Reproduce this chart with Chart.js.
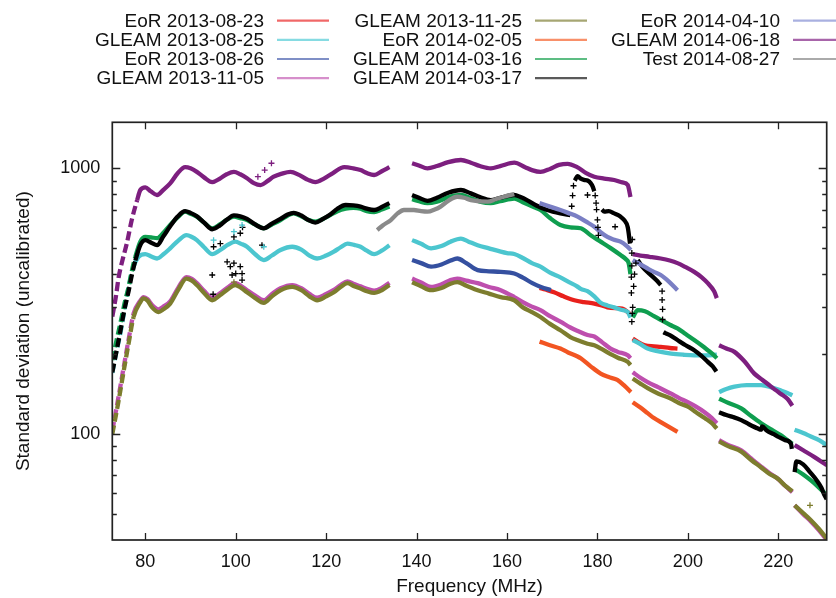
<!DOCTYPE html>
<html>
<head>
<meta charset="utf-8">
<script src="https://cdn.jsdelivr.net/npm/chart.js@4/dist/chart.umd.min.js"></script>
<style>
  html, body { margin: 0; padding: 0; background: #fff; }
  canvas { display: block; }
</style>
</head>
<body>
<canvas id="c" width="836" height="598"></canvas>
<script>
// ---------------- DATA (frequency in MHz, standard deviation uncalibrated; null = gap) ----------------
const seriesNames = ['EoR 2013-08-23', 'GLEAM 2013-08-25', 'EoR 2013-08-26', 'GLEAM 2013-11-05',
  'GLEAM 2013-11-25', 'EoR 2014-02-05', 'GLEAM 2014-03-16', 'GLEAM 2014-03-17',
  'EoR 2014-04-10', 'GLEAM 2014-06-18', 'Test 2014-08-27'];

const xTickValues = [80, 100, 120, 140, 160, 180, 200, 220];
const yTickValues = [50, 60, 70, 80, 90, 100, 200, 300, 400, 500, 600, 700, 800, 900, 1000];
const yLabelValues = [100, 1000];

// EoR 2013-08-23
const freqEoR0823 = [167.2,168.5,170.4,172.5,174.9,177.0,179.3,180.7,182.2,184.0,185.5,186.9,187.4, 187.6,
  187.8,189.0,190.5,192.5,194.0,196.0,197.7];
const sdEoR0823 = [355,350,342,330,319,314,310,306,300,298,297,286,280, null,
  229,222,216,214,213,211,210];

// GLEAM 2013-08-25
const freqGL0825 = [72.7,73.5,74.5,75.9,77.4,78.5,80.0,81.3,82.6,84.0,85.5,87.3,89.1,90.3,91.4,93.0,94.8,96.5,98.2,99.9,
  101.2,102.5,104.3,106.2,108.0,109.9,112.5,114.5,116.3,118.0,120.0,121.7,123.2,124.7,126.2,127.6,129.0,130.6,132.3,134.0, 136.0,
  139.0,141.0,143.2,145.5,147.5,149.8,151.5,153.5,156.0,158.6,160.0,161.6,163.5,165.5,167.4,169.5,171.8,173.5,175.5,176.3,
  177.8,179.3,180.7,182.2,183.7,185.2,186.7,187.3, 187.55,
  187.8,189.5,191.1,193.5,196.3,199.0,201.4,204.0,206.4, 206.75,
  206.9,208.5,210.3,213.0,216.2,218.5,220.6,222.0,223.1, 223.35,
  223.6,225.5,227.2,229.0,230.7];
const sdGL0825 = [170,200,240,328,427,465,476,466,458,475,500,535,561,552,537,505,476,492,515,530,
  520,507,475,452,470,493,507,495,470,458,470,486,505,521,515,507,490,476,490,514, null,
  537,520,500,510,530,544,530,514,500,486,480,476,460,440,427,405,389,375,360,352,
  345,330,312,305,300,294,288,275, null,
  226,218,210,205,201,199,198,198,199, null,
  144,148,151,153,153,150,146,143,140, null,
  104,101,98,95,91];

// EoR 2013-08-26
const freqEoR0826 = [139.0,141.0,143.2,145.5,147.5,149.0,151.0,153.5,156.0,158.6,161.6,163.5,165.6,167.5,169.7];
const sdEoR0826 = [452,440,427,435,450,458,440,414,410,408,402,388,370,358,348];

// GLEAM 2013-11-05 and 2013-11-25 share the same channel frequencies
const freqGL11 = [72.7,74.0,75.3,76.4,77.4,78.9,79.6,80.5,81.5,82.9,84.0,85.5,87.3,89.1,90.3,91.4,93.0,94.8,96.5,98.2,
  99.9,101.2,102.5,104.3,106.2,108.0,109.9,112.5,114.5,116.3,118.0,120.0,121.7,123.2,124.7,126.2,127.6,129.0,130.6,132.3,134.0, 136.0,
  139.0,141.0,143.2,145.5,147.5,149.0,151.0,153.5,156.0,158.6,161.6,163.5,165.5,167.4,169.5,171.8,174.0,175.5,177.8,179.3,
  181.0,182.9,184.5,186.7,187.3, 187.55,
  187.8,189.5,191.1,193.5,196.3,198.0,200.0,201.8,203.7,205.3,206.4, 206.75,
  206.9,209.0,211.8,214.0,216.2,218.0,219.9,221.5,223.1, 223.35,
  223.6,225.5,227.2,229.0,230.7];
const sdGL1105 = [103,136,182,232,284,318,328,322,306,295,302,316,356,390,384,370,346,326,339,356,
  370,361,348,332,319,337,354,364,354,337,326,337,349,364,376,367,360,352,347,355,371, null,
  385,372,358,366,380,385,378,370,358,348,328,314,302,293,278,265,252,245,236,233,
  222,210,204,198,193, null,
  171,163,157,150,142,137,132,127,121,115,110, null,
  95,91,87,81,75.5,71.5,68,64,60.5, null,
  54,50,47,43.5,40];
const sdGL1125 = [100,131,176,224,276,314,324,318,300,288,295,310,350,385,378,364,340,319,333,350,
  364,355,342,325,312,330,348,358,348,330,319,330,342,358,370,360,353,345,340,348,364, null,
  373,360,348,355,368,373,362,348,338,328,319,300,288,276,260,246,232,226,219,216,
  209,200,194,187,182, null,
  162,155,149,142,136,131,127,121,115,110,105, null,
  94,90,86,80,75,71,68,64,61, null,
  54,50.5,47.5,44,40.5];

// EoR 2014-02-05
const freqEoR0205 = [167.2,169.5,171.8,173.5,175.6,176.3,178.5,180.7,182.5,184.4,186.0,187.4, 187.6,
  187.8,189.5,191.1,192.5,194.0,196.0,197.7];
const sdEoR0205 = [223,216,210,203,196,193,180,169,164,160,152,144, null,
  132,126,120,115,111,106,102];

// GLEAM 2014-03-16
const freqGL0316 = [72.7,73.5,74.5,75.4,76.3,77.0,77.8,78.9,80.0,81.3,82.6,84.0,85.5,87.2,88.8,90.0,91.4,93.0,94.8,96.5,
  98.0,99.6,101.0,102.5,104.3,106.2,108.0,109.9,111.5,112.8,114.5,116.0,117.6,119.3,120.9,122.5,124.3,126.0,127.6,129.0,
  130.6,132.3,134.0, 136.0,
  139.0,140.5,142.4,144.5,147.0,149.8,152.0,154.0,156.4,158.5,161.6,163.5,165.5,167.4,169.5,171.8,174.0,176.3,178.5,180.7,
  183.0,185.1,186.3,186.9,187.3, 187.55,
  187.8,188.9,190.5,192.5,194.0,196.0,197.7,199.5,201.4,203.0,204.4,205.5,206.4, 206.75,
  206.9,209.0,211.8,214.0,216.2,218.5,220.6,222.0,223.1, 223.35,
  223.6,225.5,227.2,229.0,230.7];
const sdGL0316 = [190,220,262,310,358,410,465,530,552,550,546,572,612,655,687,675,658,625,595,615,
  640,658,650,639,615,595,615,639,665,677,660,640,630,645,667,690,705,710,705,690,
  685,700,718, null,
  765,752,740,750,778,794,772,750,740,752,770,745,720,697,650,612,600,595,560,530,
  500,472,455,440,400, null,
  275,293,290,278,269,258,250,238,226,216,207,200,193, null,
  136,131,125,117,110,104,99,95,92, null,
  74,70.5,67,63,59];

// GLEAM 2014-03-17
const freqGL0317 = [72.7,73.5,74.5,75.4,76.3,77.0,77.8,78.9,80.0,81.3,82.6,84.0,85.5,87.2,88.8,90.0,91.4,93.0,94.8,96.5,
  98.0,99.6,101.0,102.5,104.3,106.2,108.0,109.9,111.5,112.8,114.5,116.0,117.6,119.3,120.9,122.5,124.3,126.0,127.6,129.0,
  130.6,132.3,134.0, 136.0,
  139.0,140.5,142.4,144.5,147.0,149.8,152.0,154.0,156.4,158.5,161.6,163.0,164.4,166.5,168.9,171.8,174.0, 174.6,
  175.0,175.6,176.3,177.0,177.8,178.5,179.0,179.3, 180.2,
  181.0,181.5,182.5,183.7,185.0,185.9,186.7,187.2, 187.4,
  188.9,190.0,191.6,193.0,194.0, 194.3,
  194.6,195.0,196.0,197.7,199.5,201.4,203.0,204.4,205.5,206.3, 206.6,
  206.9,208.5,210.0,211.8,213.5,215.5,216.2,216.4,217.5,219.0,219.9,221.5,222.8,223.0, 223.3,
  223.6,224.0,225.5,227.0,228.5,229.5,230.2,230.7];
const sdGL0317 = [171,200,245,295,345,395,450,515,537,525,514,555,605,660,690,680,660,625,590,610,
  640,665,660,645,615,595,620,645,670,680,665,640,625,645,670,705,728,725,718,705,
  697,715,740, null,
  794,775,755,775,810,829,805,780,760,775,794,780,760,725,697,677,667, null,
  900,935,915,905,900,880,850,820, null,
  700,687,690,677,660,639,600,521, null,
  452,425,400,380,364, null,
  242,240,236,226,216,207,197,187,180,172, null,
  121,118,116,113,109,105,104,107,103,100,98,95,92,88, null,
  72,79,77,72,67,63,59,57];

// EoR 2014-04-10
const freqEoR0410 = [167.2,169.5,171.8,173.5,175.6,177.5,179.3,180.7,182.2,183.5,185.1,186.5,187.4, 187.6,
  187.8,189.5,191.1,192.5,194.0,195.8,197.7];
const sdEoR0410 = [740,718,697,680,658,630,603,575,552,540,530,510,493, null,
  452,435,420,408,397,375,348];

// GLEAM 2014-06-18
const freqGL0618 = [72.7,73.5,74.1,75.0,75.9,77.0,78.2,78.9,80.0,81.2,82.6,84.0,85.5,87.2,88.8,90.0,91.4,93.0,94.8,96.5,
  98.0,99.6,101.0,102.5,104.0,105.5,107.0,108.4,110.2,112.1,114.0,116.0,117.6,119.5,121.5,124.0,126.0,127.6,129.0,130.6,
  132.3,134.0, 136.0,
  139.0,140.5,142.4,144.5,147.0,149.8,152.0,154.0,156.4,158.5,161.6,164.0,165.5,167.4,169.5,171.5,173.4,175.5,177.5,179.3,
  181.5,183.7,185.5,186.7,187.3, 187.55,
  187.8,189.5,191.5,194.0,196.0,197.7,199.5,201.4,203.0,204.4,205.8,206.4, 206.75,
  206.9,208.5,210.3,212.5,214.7,216.5,218.4,220.5,222.0,223.1, 223.35,
  223.6,225.5,228.0,230.7];
const sdGL0618 = [277,330,389,455,521,639,760,829,848,820,794,830,878,960,1010,1000,970,925,887,915,
  950,970,950,918,880,865,895,930,955,970,945,905,887,915,960,1010,1000,985,960,944,
  975,1010, null,
  1045,1025,1000,1020,1055,1075,1050,1020,1000,1020,1050,1010,985,970,995,1030,1040,1010,960,930,
  915,904,885,865,780, null,
  476,470,465,458,450,440,425,408,390,370,345,325, null,
  216,210,204,188,169,160,151,142,136,128, null,
  91,87,82,76.5];

// Test 2014-08-27
const freqTest0827 = [131.3,132.5,134.3,135.8,137.2,139.4,141.0,142.4,144.0,145.3,147.0,149.0,150.5,152.0,155.7,157.5,159.3,161.6];
const sdTest0827 = [586,610,639,677,697,697,690,687,700,718,755,782,775,760,749,765,782,800];

// Isolated outlying channels (drawn as single '+' marks)
const freqOut0317 = [94.8,95.0,95.1,96.6,98.1,98.8,99.2,99.6,99.6,100.0,101.0,101.0,101.4,101.4,101.5,105.8,
  174.3,174.5,174.7,177.8,179.5,179.7,179.8,180.0,180.1,180.2,183.9,
  187.5,187.5,187.6,187.6,187.7,187.6,187.7,187.8,188.0,188.2,188.5,
  194.3,194.3,194.4,194.4];
const sdOut0317 = [397,336,507,521,445,427,397,440,552,402,427,570,402,380,600,514,
  720,790,860,794,790,740,700,640,600,560,603,
  340,390,430,480,540,265,285,300,360,400,440,
  345,320,295,270];
const freqOut0825 = [95.1,99.6,101.4,106.2];
const sdOut0825 = [537,578,612,507];
const freqOut0618 = [104.9,106.4,107.9];
const sdOut0618 = [930,985,1045];
const freqOut1125 = [99.6,227.0];
const sdOut1125 = [373,54];

// ---------------- STYLE ----------------
const markColors = ['#e8201c','#4cc6cf','#3550a0','#be4fae','#7d7d2e','#f25522','#0f9e4f','#000000','#7a7fc4','#7d1f7f','#8a8a8a'];
const keyColors  = ['#f06868','#86dbe2','#7f8fc6','#d68fcb','#a6a673','#f8906a','#5dbd83','#5a5a5a','#a9b0e0','#a865aa','#aaaaaa'];

const seriesData = [
  [freqEoR0823, sdEoR0823], [freqGL0825, sdGL0825], [freqEoR0826, sdEoR0826], [freqGL11, sdGL1105],
  [freqGL11, sdGL1125], [freqEoR0205, sdEoR0205], [freqGL0316, sdGL0316], [freqGL0317, sdGL0317],
  [freqEoR0410, sdEoR0410], [freqGL0618, sdGL0618], [freqTest0827, sdTest0827]
];
const toPoints = (f, v) => f.map((x, i) => ({ x: x, y: v[i] }));

const datasets = seriesData.map((s, i) => ({
  label: seriesNames[i],
  data: toPoints(s[0], s[1]),
  borderColor: markColors[i],
  backgroundColor: markColors[i],
  borderWidth: 4.3,
  pointRadius: 0,
  pointHoverRadius: 0,
  fill: false,
  spanGaps: false,
  cubicInterpolationMode: 'monotone',
  segment: { borderDash: c => (c.p1.parsed.x <= 78.3 ? [9, 4] : undefined) },
  order: 100 - i
}));
const outliers = [[freqOut0825, sdOut0825, 1], [freqOut1125, sdOut1125, 4], [freqOut0317, sdOut0317, 7], [freqOut0618, sdOut0618, 9]];
outliers.forEach(o => datasets.push({
  label: '_out',
  data: toPoints(o[0], o[1]),
  showLine: false,
  pointStyle: 'cross',
  pointRadius: 3,
  pointBorderWidth: 1.3,
  borderColor: markColors[o[2]],
  backgroundColor: markColors[o[2]],
  order: 0
}));

const FONT = '"Liberation Sans", Arial, Helvetica, sans-serif';
Chart.defaults.font.family = FONT;
Chart.defaults.color = '#111';

const framePlugin = {
  id: 'frame',
  afterDatasetsDraw(chart) {
    const ctx = chart.ctx, a = chart.chartArea;
    const xs = chart.scales.x, ys = chart.scales.y;
    ctx.save();
    ctx.strokeStyle = '#222';
    ctx.lineWidth = 1.3;
    ctx.beginPath();
    xTickValues.forEach(v => {
      const p = Math.round(xs.getPixelForValue(v)) + 0.5;
      ctx.moveTo(p, a.bottom); ctx.lineTo(p, a.bottom - 7);
      ctx.moveTo(p, a.top); ctx.lineTo(p, a.top + 7);
    });
    yTickValues.forEach(v => {
      const p = Math.round(ys.getPixelForValue(v)) + 0.5;
      const len = yLabelValues.includes(v) ? 8 : 4.5;
      ctx.moveTo(a.left, p); ctx.lineTo(a.left + len, p);
      ctx.moveTo(a.right, p); ctx.lineTo(a.right - len, p);
    });
    ctx.stroke();
    ctx.lineWidth = 1.7;
    ctx.strokeRect(a.left, a.top, a.right - a.left, a.bottom - a.top);
    ctx.restore();
  },
  afterDraw(chart) {
    const ctx = chart.ctx;
    ctx.save();
    ctx.font = '19px ' + FONT;
    ctx.textAlign = 'right';
    ctx.textBaseline = 'middle';
    for (let i = 0; i < seriesNames.length; i++) {
      const col = Math.floor(i / 4), row = i % 4;
      const tx = 264 + col * 258;
      const ty = 20.6 + row * 19.2;
      ctx.fillStyle = '#111';
      ctx.fillText(chart.data.datasets[i].label, tx, ty + 1);
      ctx.strokeStyle = keyColors[i];
      ctx.lineWidth = 2.2;
      ctx.beginPath();
      ctx.moveTo(tx + 13, ty); ctx.lineTo(tx + 65, ty);
      ctx.stroke();
    }
    ctx.restore();
  }
};

new Chart(document.getElementById('c'), {
  type: 'line',
  data: { datasets: datasets },
  options: {
    responsive: false,
    devicePixelRatio: 1,
    animation: false,
    events: [],
    layout: { padding: { top: 122.3, right: 9.3, bottom: 0, left: 0 } },
    plugins: { legend: { display: false }, tooltip: { enabled: false } },
    scales: {
      x: {
        type: 'linear',
        min: 72.7,
        max: 230.7,
        afterBuildTicks: s => { s.ticks = xTickValues.map(v => ({ value: v })); },
        afterFit: s => { s.height = 58; },
        grid: { display: false, drawTicks: false },
        border: { display: false },
        ticks: { font: { size: 18 }, color: '#111', padding: 11, maxRotation: 0, autoSkip: false,
                 callback: v => String(v) },
        title: { display: true, text: 'Frequency (MHz)', font: { size: 19 }, color: '#111', padding: { top: 0, bottom: 0 } }
      },
      y: {
        type: 'logarithmic',
        min: 40,
        max: 1490,
        afterBuildTicks: s => { s.ticks = yTickValues.map(v => ({ value: v })); },
        afterFit: s => { s.width = 112.3; },
        grid: { display: false, drawTicks: false },
        border: { display: false },
        ticks: { font: { size: 18 }, color: '#111', padding: 12, autoSkip: false,
                 callback: v => (yLabelValues.includes(v) ? String(v) : '') },
        title: { display: true, text: 'Standard deviation (uncalibrated)', font: { size: 19 }, color: '#111', padding: { top: 12, bottom: 0 } }
      }
    }
  },
  plugins: [framePlugin]
});
</script>
</body>
</html>
